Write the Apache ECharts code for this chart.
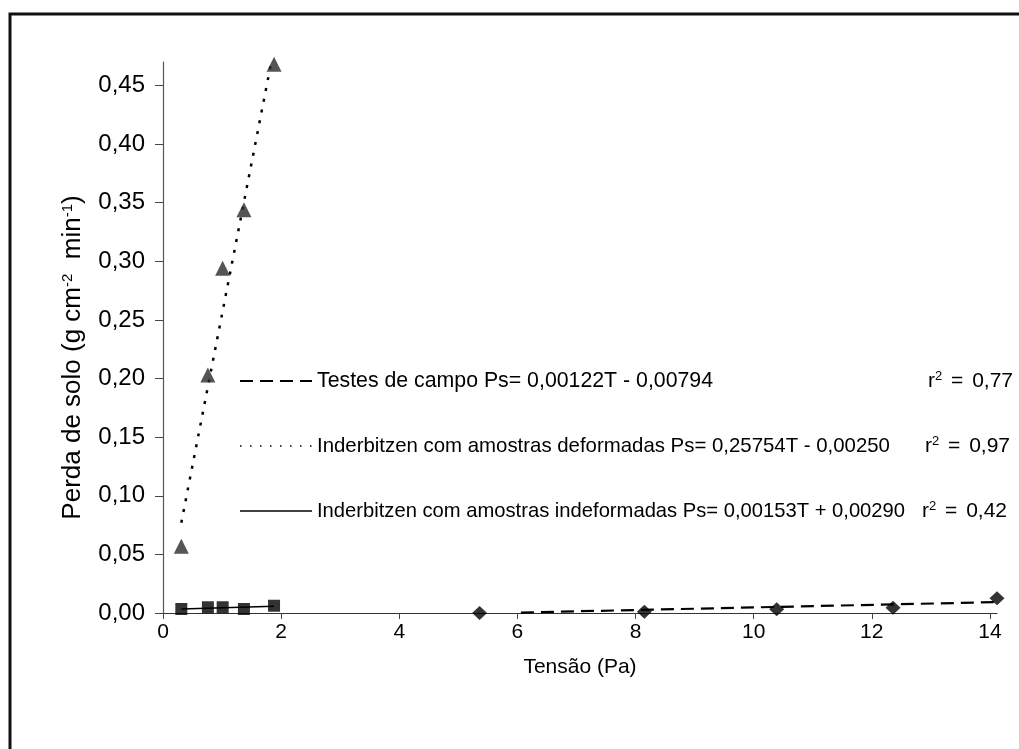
<!DOCTYPE html>
<html>
<head>
<meta charset="utf-8">
<script src="https://cdn.jsdelivr.net/npm/echarts@6/dist/echarts.min.js"></script>
<style>
  html, body { margin: 0; padding: 0; background: #fff; }
  #chart { width: 1019px; height: 749px; }
</style>
</head>
<body>
<div id="chart"></div>
<script>
// dados
var tensaoLab = [0.31, 0.76, 1.01, 1.37, 1.88];
var deformadas = [0.057, 0.203, 0.294, 0.344, 0.468];
var indeformadas = [0.0034, 0.0049, 0.0049, 0.0034, 0.0062];
var tensaoCampo = [5.36, 8.15, 10.39, 12.36, 14.12];
var campo = [0.0000, 0.0011, 0.0032, 0.0045, 0.0125];

// extremos das retas de tendência
var trendCampoX = [6.06, 14.12];
var trendCampoY = [0.0004, 0.0093];
var trendDefX = [0.31, 1.88];
var trendDefY = [0.077, 0.482];
var trendIndefX = [0.31, 1.88];
var trendIndefY = [0.0034, 0.0058];

var xTicks = [0, 2, 4, 6, 8, 10, 12, 14];
var yTicks = [0, 0.05, 0.10, 0.15, 0.20, 0.25, 0.30, 0.35, 0.40, 0.45];

var legendRows = [
  { text: 'Testes de campo Ps= 0,00122T - 0,00794', r2: '0,77' },
  { text: 'Inderbitzen com amostras deformadas Ps= 0,25754T - 0,00250', r2: '0,97' },
  { text: 'Inderbitzen com amostras indeformadas Ps= 0,00153T + 0,00290', r2: '0,42' }
];

function pares(xs, ys) {
  return xs.map(function (x, i) { return [x, ys[i]]; });
}

var font = "'Liberation Sans', Arial, sans-serif";
var myChart = echarts.init(document.getElementById('chart'));

var rowY = [381, 446, 511];
var rowSize = [21.3, 20.4, 20.2];
var r2X = [928, 925, 922];
var dashes = [[13, 7], [1.5, 8.5], null];
var widths = [2, 1.5, 1.5];
var graphic = [{
  type: 'rect',
  shape: { x: 10, y: 14, width: 1200, height: 900 },
  style: { fill: 'none', stroke: '#111', lineWidth: 3 },
  silent: true
}];
legendRows.forEach(function (row, i) {
  graphic.push({
    type: 'line',
    shape: { x1: 240, y1: rowY[i], x2: 312, y2: rowY[i] },
    style: { stroke: '#000', lineWidth: widths[i], lineDash: dashes[i] }
  });
  graphic.push({
    type: 'text',
    style: {
      text: row.text, x: 317, y: rowY[i], verticalAlign: 'middle',
      font: rowSize[i] + 'px ' + font, fill: '#000'
    }
  });
  graphic.push({
    type: 'text',
    style: {
      text: 'r{sup|2} {eq|=} ' + row.r2, x: r2X[i], y: rowY[i], verticalAlign: 'middle',
      font: '21px ' + font, fill: '#000',
      rich: {
        sup: { fontSize: 13, fontFamily: font, verticalAlign: 'top', padding: [0, 0, 9, 0] },
        eq: { fontSize: 21, fontFamily: font, padding: [0, 3, 0, 3] }
      }
    }
  });
});

myChart.setOption({
  animation: false,
  grid: { left: 163, top: 62, right: 22, bottom: 136 },
  xAxis: {
    type: 'value', min: 0, max: 14.12,
    name: 'Tensão (Pa)', nameLocation: 'middle', nameGap: 44,
    nameTextStyle: { fontSize: 21, fontFamily: font, color: '#000' },
    axisLine: { lineStyle: { color: '#333', width: 1.2 } },
    axisTick: { length: 6, lineStyle: { color: '#444' }, customValues: xTicks },
    axisLabel: { customValues: xTicks, margin: 9, fontSize: 21, fontFamily: font, color: '#000' },
    splitLine: { show: false }
  },
  yAxis: {
    type: 'value', min: 0, max: 0.47,
    name: 'Perda de solo (g cm{sup|-2}  min{sup|-1})', nameLocation: 'middle', nameRotate: 90, nameGap: 77,
    nameTextStyle: {
      fontSize: 26, fontFamily: font, color: '#000', padding: [0, 40, 0, 0],
      rich: { sup: { fontSize: 15, fontFamily: font, color: '#000', verticalAlign: 'top', padding: [0, 0, 11, 0] } }
    },
    axisLine: { show: true, lineStyle: { color: '#555', width: 1.2 } },
    axisTick: { show: true, length: 8, lineStyle: { color: '#444' }, customValues: yTicks },
    axisLabel: {
      customValues: yTicks, margin: 18, fontSize: 24, fontFamily: font, color: '#000',
      formatter: function (v) { return v.toFixed(2).replace('.', ','); }
    },
    splitLine: { show: false }
  },
  graphic: graphic,
  series: [
    {
      type: 'line', data: pares(trendCampoX, trendCampoY), showSymbol: false, silent: true,
      lineStyle: { color: '#000', width: 2.2, type: [13, 7] }, z: 2
    },
    {
      type: 'line', data: pares(trendDefX, trendDefY), showSymbol: false, silent: true,
      lineStyle: { color: '#000', width: 2.5, type: [3, 8] }, z: 2
    },
    {
      type: 'line', data: pares(trendIndefX, trendIndefY), showSymbol: false, silent: true,
      lineStyle: { color: '#000', width: 1.6 }, z: 2
    },
    {
      name: 'Testes de campo', type: 'scatter', data: pares(tensaoCampo, campo),
      symbol: 'diamond', symbolSize: [15, 14], itemStyle: { color: '#000' }, z: 3
    },
    {
      name: 'Inderbitzen deformadas', type: 'scatter', data: pares(tensaoLab, deformadas),
      symbol: 'triangle', symbolSize: [15, 15], itemStyle: { color: '#2a2a2a' }, z: 3
    },
    {
      name: 'Inderbitzen indeformadas', type: 'scatter', data: pares(tensaoLab, indeformadas),
      symbol: 'rect', symbolSize: 12, itemStyle: { color: '#000' }, z: 3
    }
  ]
});
</script>
</body>
</html>
